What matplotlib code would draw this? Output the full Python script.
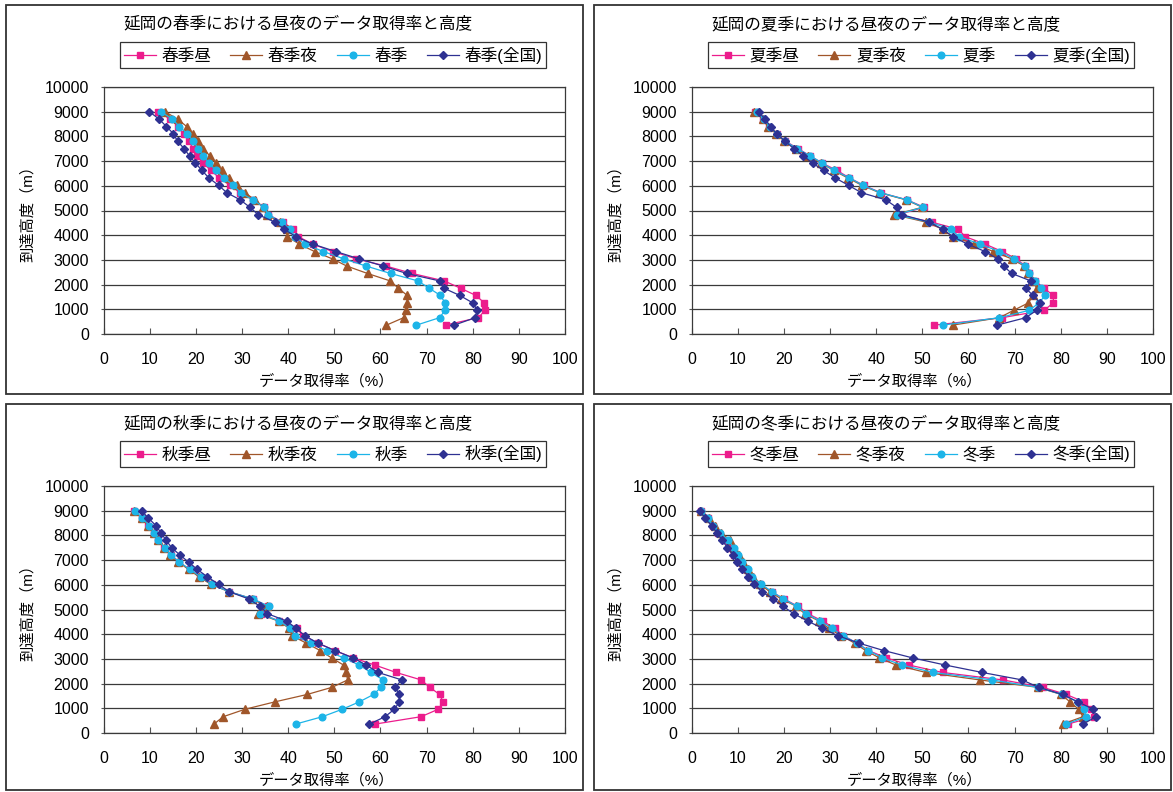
import matplotlib
matplotlib.use("Agg")
import matplotlib.pyplot as plt
from matplotlib.patches import Rectangle

plt.rcParams['font.family'] = ['Liberation Sans', 'Noto Sans CJK JP']

# altitude of each sample (m)
heights = [9000, 8700, 8400, 8110, 7810, 7510, 7210, 6920, 6620, 6320,
           6020, 5720, 5430, 5130, 4830, 4530, 4240, 3940, 3640, 3340,
           3040, 2750, 2450, 2150, 1850, 1560, 1260, 960, 660, 360]

seasons = ['春季', '夏季', '秋季', '冬季']

# data acquisition rate (%) : day / night / season / season (nationwide)
spring_day = [11.8, 14.4, 16.2, 17.3, 18.4, 19.4, 20.3, 21.6, 23.2, 25.1, 27.4, 29.6, 32.4, 34.8, 35.7,
              38.8, 41.1, 42.2, 45.3, 49.6, 54.8, 61.2, 66.9, 73.8, 77.4, 80.7, 82.5, 82.7, 81.2, 74.1]
spring_night = [13.3, 16.0, 18.0, 19.3, 20.5, 21.6, 23.0, 24.3, 25.6, 27.2, 28.8, 30.6, 32.8, 34.6, 35.3,
                38.2, 39.7, 39.8, 42.4, 45.7, 49.6, 52.7, 57.2, 62.1, 63.9, 65.8, 65.8, 65.5, 65.0, 61.3]
spring_all = [12.4, 14.9, 16.4, 18.1, 19.4, 20.5, 21.6, 22.8, 24.3, 26.1, 28.1, 29.7, 32.3, 34.8, 35.7,
              38.6, 40.4, 41.5, 43.6, 47.6, 52.1, 56.9, 62.2, 68.1, 70.6, 73.0, 74.0, 74.0, 72.8, 67.8]
spring_nation = [9.9, 12.0, 13.6, 15.1, 16.0, 17.4, 18.6, 19.9, 21.3, 22.8, 24.9, 26.7, 29.6, 31.7, 33.5,
                 37.1, 39.1, 41.7, 45.3, 50.3, 55.4, 60.6, 65.7, 72.8, 73.8, 77.2, 80.0, 81.0, 80.5, 76.0]

summer_day = [13.8, 15.4, 16.7, 18.4, 20.3, 23.0, 25.7, 28.3, 31.5, 34.2, 37.3, 41.0, 46.7, 50.4, 44.7,
              52.0, 57.8, 59.3, 63.6, 67.3, 70.4, 72.3, 73.2, 74.5, 76.4, 78.4, 78.4, 76.4, 67.3, 52.6]
summer_night = [13.6, 15.4, 16.5, 18.3, 20.1, 22.6, 25.2, 28.0, 30.8, 33.8, 36.9, 40.7, 46.5, 50.0, 43.9,
                50.8, 54.4, 56.6, 61.3, 65.4, 69.4, 72.1, 73.0, 74.0, 74.8, 74.0, 73.0, 69.8, 66.7, 56.6]
summer_all = [14.1, 15.6, 16.9, 18.4, 20.2, 22.8, 25.7, 28.3, 30.9, 34.2, 37.1, 40.9, 46.7, 50.1, 44.4,
              51.5, 56.2, 58.0, 62.5, 66.7, 69.9, 72.3, 73.2, 74.5, 75.7, 76.6, 75.3, 73.2, 66.7, 54.4]
summer_nation = [14.5, 15.9, 17.1, 18.4, 20.2, 22.1, 24.2, 26.2, 28.6, 31.1, 34.0, 36.8, 42.1, 44.4, 45.6,
                 51.5, 54.4, 56.6, 59.8, 63.6, 66.3, 67.6, 69.4, 73.5, 72.4, 74.0, 75.5, 74.8, 72.4, 66.2]

autumn_day = [6.6, 8.2, 9.7, 10.8, 11.8, 13.1, 14.5, 16.4, 18.6, 20.9, 23.4, 27.2, 32.3, 35.7, 34.0,
              38.1, 41.8, 43.3, 46.4, 50.1, 54.1, 58.8, 63.4, 68.8, 70.7, 72.8, 73.6, 72.5, 68.8, 58.8]
autumn_night = [6.6, 8.2, 9.7, 10.8, 11.8, 13.1, 14.4, 16.2, 18.4, 20.7, 23.2, 27.2, 32.1, 35.3, 33.5,
                37.9, 40.2, 40.8, 43.9, 46.9, 49.4, 52.0, 52.5, 52.9, 49.5, 44.1, 37.1, 30.6, 25.9, 23.9]
autumn_all = [6.8, 8.4, 9.8, 10.9, 11.8, 13.2, 14.5, 16.4, 18.7, 21.0, 23.4, 27.2, 32.3, 35.8, 33.9,
              38.1, 40.4, 41.5, 44.9, 48.3, 52.0, 55.4, 57.9, 60.6, 60.1, 58.5, 55.4, 51.7, 47.4, 41.6]
autumn_nation = [8.2, 9.7, 11.3, 12.4, 13.5, 14.7, 16.5, 18.4, 20.3, 22.5, 24.9, 27.2, 31.4, 33.9, 35.5,
                 39.7, 41.7, 43.6, 46.4, 50.1, 54.1, 56.9, 59.5, 64.6, 63.2, 64.1, 64.1, 63.0, 61.0, 57.6]

winter_day = [2.1, 3.5, 4.6, 5.8, 7.0, 8.1, 9.1, 10.3, 11.3, 12.8, 14.9, 17.3, 20.0, 23.0, 25.2,
              28.4, 31.0, 32.9, 35.8, 38.3, 42.2, 47.1, 54.4, 67.4, 76.1, 81.2, 85.0, 86.6, 87.3, 81.5]
winter_night = [2.1, 3.8, 5.0, 6.4, 8.2, 9.1, 10.3, 11.1, 12.2, 13.3, 14.9, 16.9, 19.4, 22.7, 24.5,
                27.6, 29.7, 32.4, 35.3, 37.7, 40.7, 44.3, 50.8, 62.4, 75.0, 80.1, 82.0, 83.9, 84.8, 80.4]
winter_all = [2.1, 3.5, 4.6, 6.1, 7.9, 9.1, 10.0, 11.0, 12.1, 13.1, 15.1, 17.4, 19.9, 22.8, 24.8,
              27.9, 30.4, 32.8, 35.8, 38.3, 41.3, 45.6, 52.4, 65.1, 75.0, 80.3, 83.7, 85.0, 85.5, 81.2]
winter_nation = [1.9, 2.8, 4.3, 5.5, 6.6, 7.7, 9.0, 9.9, 11.0, 12.3, 13.6, 15.2, 17.6, 19.8, 22.1,
                 25.2, 28.3, 31.7, 36.2, 41.6, 47.9, 55.0, 63.0, 71.6, 75.2, 80.4, 83.7, 87.1, 87.7, 84.8]

season_data = [
    (spring_day, spring_night, spring_all, spring_nation),
    (summer_day, summer_night, summer_all, summer_nation),
    (autumn_day, autumn_night, autumn_all, autumn_nation),
    (winter_day, winter_night, winter_all, winter_nation),
]

# pink squares, brown triangles, cyan circles, navy diamonds
styles = [
    dict(color='#EC1C8C', marker='s', ms=4.8),
    dict(color='#A0562A', marker='^', ms=5.8),
    dict(color='#1CB4E8', marker='o', ms=4.8),
    dict(color='#2E3192', marker='D', ms=3.9),
]

W, H = 1173, 792
fig = plt.figure(figsize=(W / 100, H / 100), dpi=100)


def fx(px):
    return px / W


def fy(py):
    return 1 - py / H


offsets = [(0, 0), (588, 0), (0, 399), (588, 399)]
frame_h = [389, 389, 386, 386]

for k, season in enumerate(seasons):
    dx, dy = offsets[k]

    # outer panel frame
    fig.patches.append(Rectangle((fx(6 + dx), fy(5 + dy + frame_h[k])), 577 / W, frame_h[k] / H,
                                 transform=fig.transFigure, fill=False, ec='#333333', lw=1.3))

    ax = fig.add_axes([fx(103.7 + dx), fy(334 + dy), 461.3 / W, 247 / H])
    labels = [season + '昼', season + '夜', season, season + '(全国)']
    for vals, st, lab in zip(season_data[k], styles, labels):
        ax.plot(vals, heights, color=st['color'], lw=0.9, marker=st['marker'],
                ms=st['ms'], mec=st['color'], mfc=st['color'], label=lab)

    ax.set_xlim(0, 100)
    ax.set_ylim(0, 10000)
    ax.set_xticks(range(0, 101, 10))
    ax.set_yticks(range(0, 10001, 1000))
    ax.grid(axis='y', color='#3a3a3a', lw=0.9)
    ax.set_axisbelow(True)
    for sp in ax.spines.values():
        sp.set_color('#3a3a3a')
        sp.set_linewidth(0.9)
    ax.tick_params(axis='x', direction='in', length=4, width=0.8, color='#555555',
                   pad=13, labelsize=11.5)
    ax.tick_params(axis='y', direction='out', length=2.5, width=0.8, color='#555555',
                   pad=8, labelsize=11.5)

    fig.text(fx(dx + 298), fy(dy + 24), '延岡の' + season + 'における昼夜のデータ取得率と高度',
             ha='center', va='center', fontsize=12)
    fig.text(fx(dx + 326), fy(dy + 381), 'データ取得率（%）', ha='center', va='center', fontsize=11)
    fig.text(fx(dx + 28), fy(dy + 210), '到達高度（m）', ha='center', va='center',
             rotation=90, fontsize=11)

    leg = ax.legend(loc='center', bbox_to_anchor=(fx(dx + 333), fy(dy + 55)),
                    bbox_transform=fig.transFigure, ncol=4, fontsize=12, frameon=True,
                    fancybox=False, edgecolor='black', handlelength=1.9, handletextpad=0.35,
                    columnspacing=1.15, borderpad=0.25, borderaxespad=0)
    leg.get_frame().set_linewidth(0.9)

fig.savefig('out.png', dpi=100)
